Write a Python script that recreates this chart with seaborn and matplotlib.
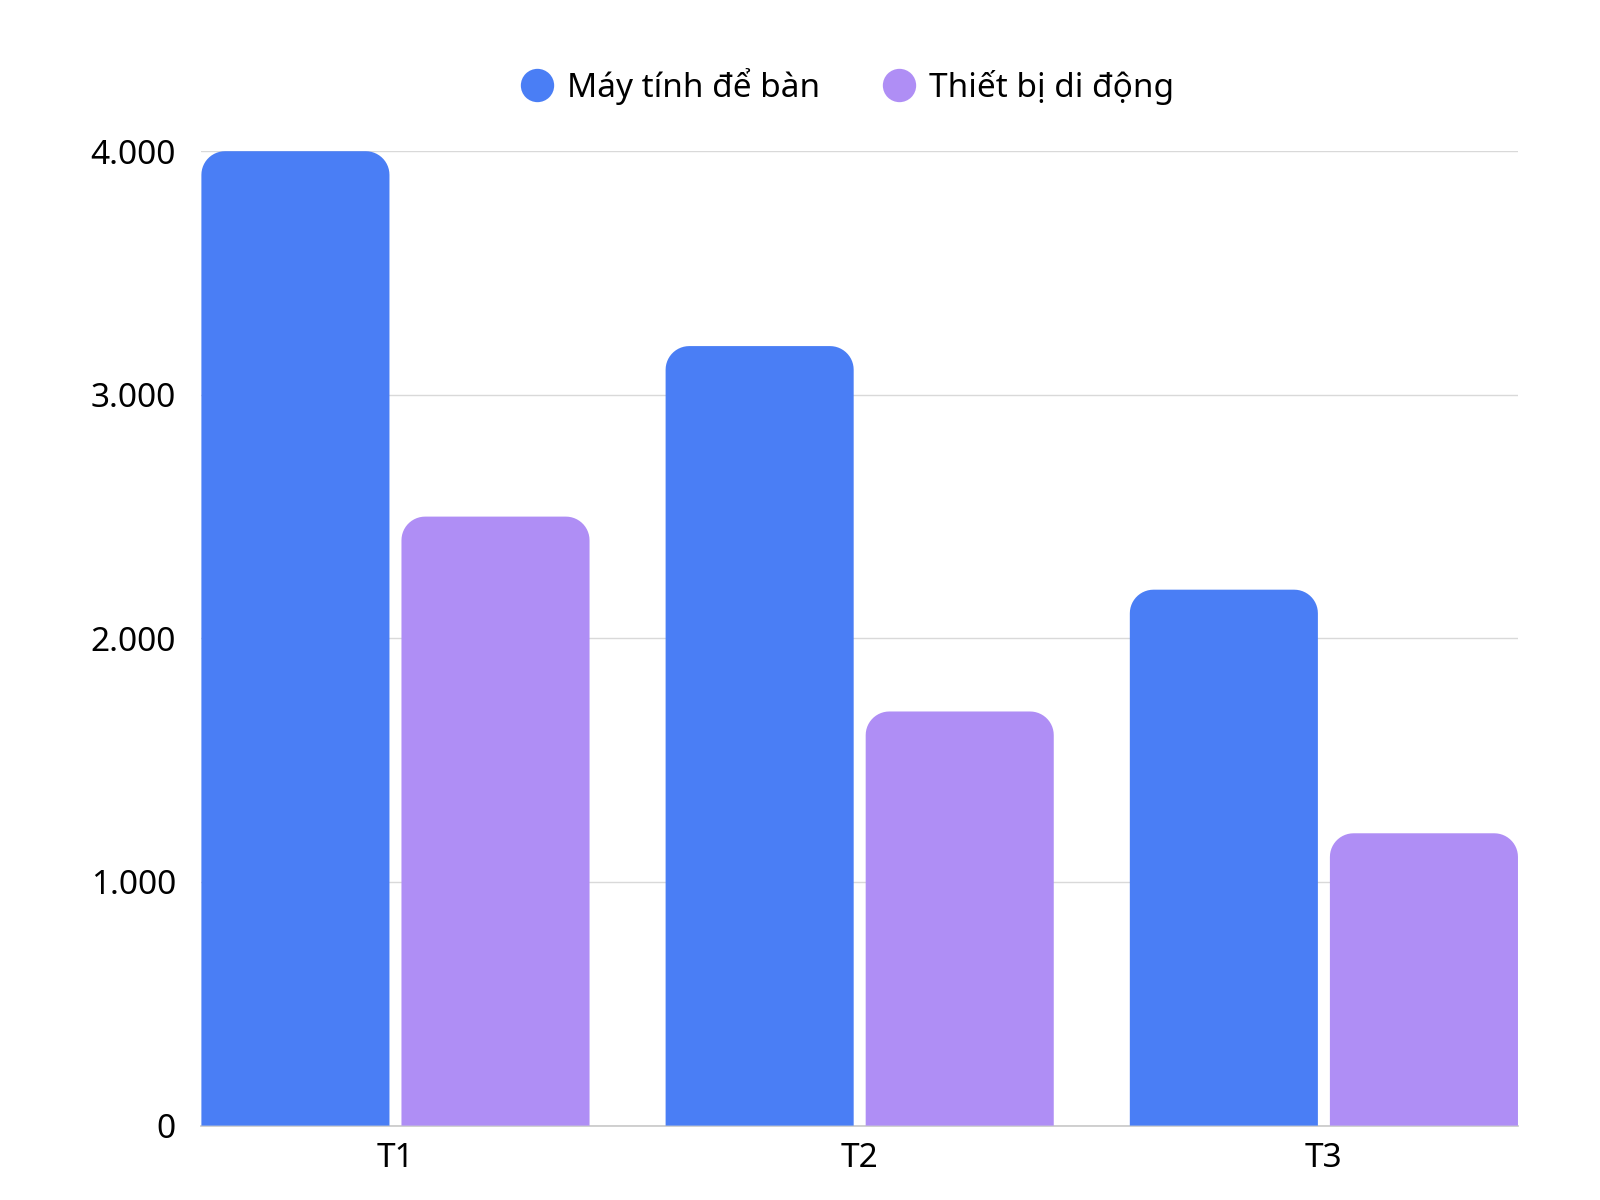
import pandas as pd
import numpy as np
import seaborn as sns
import matplotlib.pyplot as plt
from matplotlib.patches import PathPatch
from matplotlib.path import Path
from matplotlib.lines import Line2D
from matplotlib.ticker import FuncFormatter

# data
thang = ['T1', 'T2', 'T3']
may_tinh = [4000, 3200, 2200]
di_dong = [2500, 1700, 1200]
ten_series = ['Máy tính để bàn', 'Thiết bị di động']
mau = ['#4A7EF5', '#AF8EF5']

df = pd.DataFrame({
    'Tháng': thang * 2,
    'Giá trị': may_tinh + di_dong,
    'Loại': [ten_series[0]] * 3 + [ten_series[1]] * 3,
})

sns.set_theme(style='white')
plt.rcParams['font.family'] = ['Noto Sans', 'DejaVu Sans']

fig = plt.figure(figsize=(16, 12), dpi=100)
ax = fig.add_axes([0.1256, 0.062, 0.8234, 0.812])

sns.barplot(data=df, x='Tháng', y='Giá trị', hue='Loại', palette=mau,
            width=0.862, gap=0.06, saturation=1, legend=False, ax=ax)

ax.set_xlim(-0.419, 2.419)
ax.set_ylim(0, 4000)


def bar_bo_goc(x, y, w, h, rx, ry):
    # rectangle path with only the two top corners rounded
    t = np.linspace(0, np.pi / 2, 14)
    pts = [(x, y), (x + w, y)]
    pts += [(x + w - rx + rx * np.cos(a), y + h - ry + ry * np.sin(a)) for a in t]
    pts += [(x + rx - rx * np.sin(a), y + h - ry + ry * np.cos(a)) for a in t]
    pts.append((x, y))
    return Path(pts, closed=True)


r_x, r_y = 0.051, 97
for p in list(ax.patches):
    x, y = p.get_x(), p.get_y()
    w, h = p.get_width(), p.get_height()
    c = p.get_facecolor()
    p.set_visible(False)
    ax.add_patch(PathPatch(bar_bo_goc(x, y, w, h, r_x, r_y), facecolor=c,
                           edgecolor='none', zorder=3))

ax.set_yticks([0, 1000, 2000, 3000, 4000])
ax.yaxis.set_major_formatter(FuncFormatter(lambda v, pos: f'{int(v):,}'.replace(',', '.')))
ax.grid(axis='y', color='#d9d9d9', linewidth=1, zorder=0)
ax.set_axisbelow(True)
for s in ['left', 'right', 'top']:
    ax.spines[s].set_visible(False)
ax.spines['bottom'].set_color('#c8c8c8')
ax.spines['bottom'].set_linewidth(1.2)
ax.tick_params(axis='both', length=0, labelsize=24, colors='black')
ax.tick_params(axis='y', pad=18)
ax.tick_params(axis='x', pad=12)
ax.set_xlabel('')
ax.set_ylabel('')

handles = [Line2D([], [], marker='o', linestyle='none', markersize=24,
                  markerfacecolor=c, markeredgecolor='none') for c in mau]
leg = fig.legend(handles, ten_series, loc='center', bbox_to_anchor=(0.5275, 0.928), ncol=2,
                 frameon=False, fontsize=24, handlelength=1.4, handletextpad=0.2,
                 columnspacing=1.65)
for t in leg.get_texts():
    t.set_color('black')

fig.savefig('out.png', dpi=100)
